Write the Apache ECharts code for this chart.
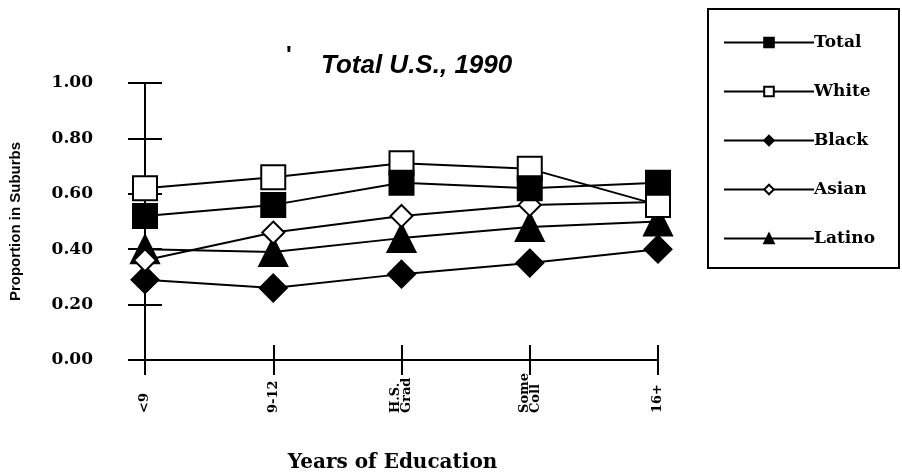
<!DOCTYPE html>
<html>
    <head>
        <meta charset="UTF-8">
        <script src="https://cdn.jsdelivr.net/npm/echarts@6/dist/echarts.min.js"></script>
        <style>
            body { margin: 0; background: #fff; }
            #main { width: 902px; height: 475px; }
        </style>
    </head>
    <body>
        <div id="main"></div>
    </body>
    <script>
        // data
        var categories = ['<9', '9-12', 'H.S.\nGrad', 'Some\nColl', '16+'];
        var totalVals  = [0.52, 0.56, 0.64, 0.62, 0.64];
        var whiteVals  = [0.62, 0.66, 0.71, 0.69, 0.56];
        var blackVals  = [0.29, 0.26, 0.31, 0.35, 0.40];
        var asianVals  = [0.36, 0.46, 0.52, 0.56, 0.57];
        var latinoVals = [0.40, 0.39, 0.44, 0.48, 0.50];

        var serif = 'DejaVu Serif';
        var sans = 'Liberation Sans';

        function mkSeries(name, vals, symbol, size) {
            return {
                name: name,
                type: 'line',
                data: vals,
                symbol: symbol,
                symbolSize: size,
                showAllSymbol: true,
                color: '#000',
                lineStyle: { color: '#000', width: 2 },
                itemStyle: { color: '#000', borderColor: '#000', borderWidth: 2 },
                emphasis: { disabled: true }
            };
        }

        var myChart = echarts.init(document.getElementById('main'), null, { renderer: 'canvas' });
        var option = {
            backgroundColor: '#fff',
            animation: false,
            title: {
                text: 'Total U.S., 1990',
                left: 316,
                top: 48,
                textStyle: { fontFamily: sans, fontSize: 26, fontWeight: 'bold', fontStyle: 'italic', color: '#000' }
            },
            // stray scan mark left of the title
            graphic: [{
                type: 'text',
                left: 286,
                top: 44,
                style: { text: '\'', font: 'bold 24px ' + sans, fill: '#000' }
            }],
            legend: {
                orient: 'vertical',
                left: 708,
                top: 9,
                padding: [25, 24, 21, 15],
                itemWidth: 90,
                itemHeight: 12,
                itemGap: 32,
                borderColor: '#000',
                borderWidth: 2,
                textStyle: { fontFamily: serif, fontSize: 17, fontWeight: 'bold', lineHeight: 16, color: '#000', padding: [0, 0, 0, -5] },
                data: ['Total', 'White', 'Black', 'Asian', 'Latino']
            },
            grid: { left: 145, right: 244, top: 83, bottom: 115, outerBoundsMode: 'none' },
            xAxis: [{
                type: 'category',
                data: categories,
                boundaryGap: false,
                name: 'Years of Education',
                nameLocation: 'middle',
                nameGap: 93,
                nameTextStyle: { fontFamily: serif, fontSize: 20, fontWeight: 'bold', color: '#000', padding: [0, 18, 0, 0] },
                axisLine: { lineStyle: { color: '#000', width: 2 } },
                axisTick: { length: 15, lineStyle: { color: '#000', width: 2 } },
                axisLabel: {
                    rotate: 90, margin: 53, align: 'left',
                    fontFamily: serif, fontSize: 13, fontWeight: 'bold', lineHeight: 11, color: '#000', interval: 0
                },
                splitLine: { show: false }
            }, {
                type: 'category',
                data: categories,
                boundaryGap: false,
                position: 'bottom',
                axisLine: { show: false },
                axisTick: { inside: true, length: 15, lineStyle: { color: '#000', width: 2 } },
                axisLabel: { show: false },
                splitLine: { show: false }
            }],
            yAxis: [{
                type: 'value',
                min: 0,
                max: 1,
                interval: 0.2,
                name: 'Proportion in Suburbs',
                nameLocation: 'middle',
                nameRotate: 90,
                nameGap: 122,
                nameTextStyle: { fontFamily: sans, fontSize: 15, fontWeight: 'bold', color: '#000' },
                axisLine: { show: true, lineStyle: { color: '#000', width: 2 } },
                axisTick: { show: true, length: 17, lineStyle: { color: '#000', width: 2 } },
                axisLabel: {
                    margin: 52,
                    fontFamily: serif, fontSize: 17, fontWeight: 'bold', color: '#000',
                    formatter: function (v) { return v.toFixed(2); }
                },
                splitLine: { show: false }
            }, {
                type: 'value',
                min: 0,
                max: 1,
                interval: 0.2,
                position: 'left',
                axisLine: { show: false },
                axisTick: { show: true, inside: true, length: 17, lineStyle: { color: '#000', width: 2 } },
                axisLabel: { show: false },
                splitLine: { show: false }
            }],
            series: [
                mkSeries('Latino', latinoVals, 'triangle', 28),
                mkSeries('Black', blackVals, 'diamond', 27),
                mkSeries('Asian', asianVals, 'emptyDiamond', 22),
                mkSeries('White', whiteVals, 'emptyRect', 24),
                mkSeries('Total', totalVals, 'rect', 24)
            ]
        };
        myChart.setOption(option, true);
    </script>
</html>
